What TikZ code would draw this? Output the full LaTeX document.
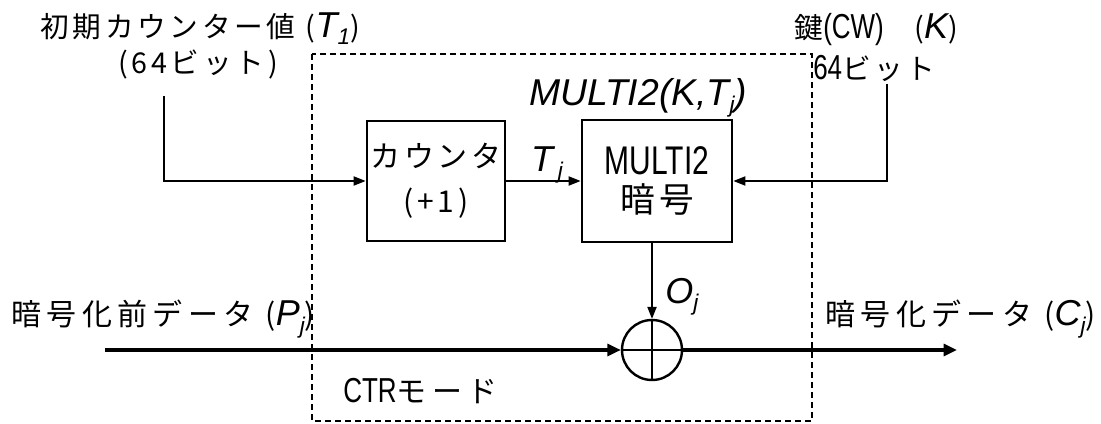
\documentclass[tikz,border=0pt]{standalone}
\usepackage{fontspec}
\usetikzlibrary{arrows.meta,calc}
\setmainfont{Noto Sans CJK JP}[LetterSpace=13]
\newfontfamily\jpw{Noto Sans CJK JP}[LetterSpace=18]
\newfontfamily\itf{Liberation Sans}
\newfontfamily\nf{Liberation Sans}[FakeStretch=0.75]
\newcommand\V[1]{{\itf\itshape\fontsize{27}{27}\selectfont #1}}
\newcommand\Sb[1]{\raisebox{-0.45ex}{\itf\itshape\fontsize{17}{17}\selectfont #1}}
\newcommand\N[1]{{\nf\fontsize{26}{26}\selectfont #1}}
\tikzset{
  lbl/.style={inner sep=0pt, font=\fontsize{21.5}{24}\selectfont},
  biglbl/.style={inner sep=0pt, font=\jpw\fontsize{22.5}{24}\selectfont},
  blk/.style={draw, line width=2.2pt, inner sep=0pt, align=center},
  conn/.style={line width=0.9pt, -{Triangle[length=9pt,width=7pt]}},
  mainln/.style={line width=2.3pt, -{Triangle[length=10pt,width=9pt]}},
  ctrbox/.style={line width=0.8pt, dash pattern=on 4.5pt off 3pt},
}
\begin{document}
\begin{tikzpicture}[x=0.75pt,y=-0.75pt]
\useasboundingbox (0,0) rectangle (1101,424);
\draw[ctrbox] (312,54) rectangle (812,421);
% blocks
\node[blk, minimum width=103.5pt, minimum height=90pt, font=\fontsize{22.5}{34}\selectfont] (cnt) at (436,181) {カウンタ\\(+1)};
\node[blk, minimum width=112.5pt, minimum height=91.5pt] (enc) at (657,181) {{\nf\fontsize{30}{30}\selectfont MULTI2}\\[5pt]{\fontsize{26}{26}\selectfont 暗号}};
\node[circle, draw, line width=1.8pt, minimum size=45pt, inner sep=0pt] (xr) at (652,350) {};
\draw[line width=1.8pt] (xr.north) -- (xr.south) (xr.west) -- (xr.east);
% connectors
\coordinate (in0) at (164,96);
\draw[conn] (in0) |- (cnt.west);
\draw[conn] (cnt.east) -- (enc.west);
\coordinate (k0) at (887,84);
\draw[conn] (k0) |- (enc.east);
\draw[conn] (xr.north |- enc.south) -- (xr.north);
\coordinate (p0) at (105,350);
\draw[mainln] (p0) -- (xr.west);
\coordinate (c1) at (957,350);
\draw[mainln] (xr.east) -- (c1);
% labels
\node[lbl, anchor=west] (t1) at (40,29) {初期カウンター値 (\V{T}\Sb{1})};
\node[lbl] (t1b) at (198,65) {(64ビット)};
\node[lbl, anchor=east] (key) at (958,30) {鍵\N{(CW)}\ \ \ (\V{K})};
\node[lbl, anchor=west] (keyb) at (813,68) {\N{64}ビット};
\node[lbl] (mf) at (638,98) {{\itf\itshape\fontsize{28}{28}\selectfont MULTI2(K,T}\Sb{j}{\itf\itshape\fontsize{28}{28}\selectfont )}};
\node[lbl] (tj) at (547,165) {\V{T}\,\Sb{j}};
\node[lbl] (oj) at (682,297) {\V{O}\Sb{j}};
\node[biglbl, anchor=west] (pj) at (11,319) {暗号化前データ (\V{P}\Sb{j})};
\node[biglbl, anchor=east] (cj) at (1096,319) {暗号化データ (\V{C}\Sb{j})};
\node[biglbl, anchor=west] (ctr) at (343,391) {\N{CTR}モード};
\end{tikzpicture}
\end{document}
